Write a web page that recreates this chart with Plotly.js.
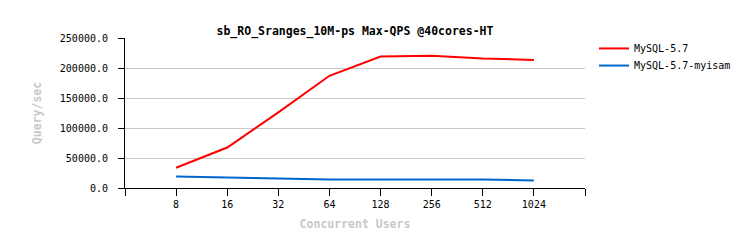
<!DOCTYPE html>
<html>
<head>
<meta charset="utf-8">
<script src="https://cdn.plot.ly/plotly-3.0.1.min.js"></script>
<style>html,body{margin:0;padding:0;background:#fff;}#chart{width:747px;height:248px;}</style>
</head>
<body>
<div id="chart"></div>
<script>
const users = [8, 16, 32, 64, 128, 256, 512, 1024];
const tickLabels = ["8", "16", "32", "64", "128", "256", "512", "1024"];
const mysql57 = [33800, 67500, 126000, 187000, 219000, 220500, 216000, 213500];
const mysql57myisam = [19000, 17500, 15500, 14000, 14000, 14000, 14000, 12500];
const seriesNames = ["MySQL-5.7", "MySQL-5.7-myisam"];

const mono = "DejaVu Sans Mono, Liberation Mono, monospace";
const traces = [
  {x: users, y: mysql57, name: seriesNames[0], type: "scatter", mode: "lines",
   line: {color: "#ff0000", width: 2}, legend: "legend"},
  {x: users, y: mysql57myisam, name: seriesNames[1], type: "scatter", mode: "lines",
   line: {color: "#0066cc", width: 2}, legend: "legend2"}
];

const legendBase = {x: 1.0196, xanchor: "left", yanchor: "top", bgcolor: "rgba(0,0,0,0)",
  font: {family: mono, size: 10, color: "#000"}, itemwidth: 30};

const layout = {
  width: 747, height: 248,
  margin: {l: 125, r: 162, t: 38, b: 60, pad: 0, autoexpand: false},
  paper_bgcolor: "#fff", plot_bgcolor: "#fff",
  font: {family: mono, size: 10, color: "#000"},
  title: {text: "<b>sb_RO_Sranges_10M-ps Max-QPS @40cores-HT</b>",
          font: {family: mono, size: 11.5, color: "#000"},
          x: 0.5, xref: "paper", xanchor: "center", y: 1, yref: "paper", yanchor: "bottom", pad: {b: 3}},
  xaxis: {
    type: "log", range: [Math.log10(4), Math.log10(2048)],
    tickmode: "array", tickvals: [4].concat(users, [2048]), ticktext: [""].concat(tickLabels, [""]),
    ticks: "outside", ticklen: 7, tickwidth: 1, tickcolor: "#000",
    showline: true, linecolor: "#000", linewidth: 1,
    showgrid: false, zeroline: false,
    tickfont: {family: mono, size: 10, color: "#000"},
    title: {text: "<b>Concurrent Users</b>", font: {family: mono, size: 11.5, color: "#c8c8c8"}, standoff: 10}
  },
  yaxis: {
    range: [0, 250000], dtick: 50000, tick0: 0, tickformat: ".1f",
    ticks: "outside", ticklen: 6, tickwidth: 1, tickcolor: "#000", ticklabelstandoff: 8,
    showline: true, linecolor: "#000", linewidth: 1,
    showgrid: true, gridcolor: "#c8c8c8", gridwidth: 1, zeroline: false,
    tickfont: {family: mono, size: 10, color: "#000"},
    title: {text: "<b>Query/sec</b>", font: {family: mono, size: 11.5, color: "#c8c8c8"}, standoff: 15}
  },
  showlegend: true,
  legend: Object.assign({}, legendBase, {y: 1.027}),
  legend2: Object.assign({}, legendBase, {y: 0.913})
};

Plotly.newPlot("chart", traces, layout, {displayModeBar: false, staticPlot: true});
</script>
</body>
</html>
